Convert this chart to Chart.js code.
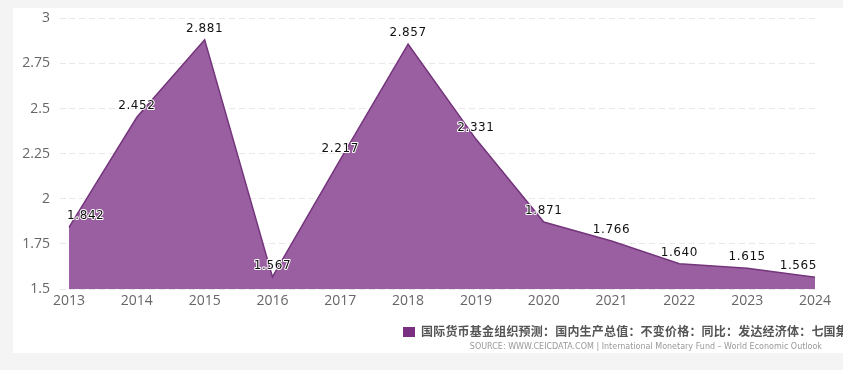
<!DOCTYPE html>
<html>
<head>
<meta charset="utf-8">
<script src="https://cdn.jsdelivr.net/npm/chart.js@4"></script>
<style>
  html, body { margin: 0; padding: 0; background: #f4f4f4; }
  #wrap { position: relative; width: 843px; height: 370px; overflow: hidden; }
  #panel { position: absolute; left: 13px; top: 8px; width: 830px; height: 345px; background: #fff; }
  #chart { position: absolute; left: 0; top: 0; }
  #legend { position: absolute; left: 403px; top: 322px; white-space: nowrap; letter-spacing: 0.2px;
    font: bold 12px "Noto Sans CJK SC", sans-serif; color: #555; line-height: 18px; }
  #legend .box { display: inline-block; width: 12px; height: 10px; background: #7b2f80;
    margin-right: 6px; vertical-align: -1px; }
  #source { position: absolute; right: 21px; top: 342px; white-space: nowrap;
    font: 8px "DejaVu Sans", sans-serif; color: #999; }
</style>
</head>
<body>
<div id="wrap">
  <div id="panel"></div>
  <canvas id="chart" width="843" height="370"></canvas>
  <div id="legend"><span class="box"></span>国际货币基金组织预测：国内生产总值：不变价格：同比：发达经济体：七国集团</div>
  <div id="source">SOURCE: WWW.CEICDATA.COM | International Monetary Fund – World Economic Outlook</div>
</div>
<script>
// data
const years = ['2013', '2014', '2015', '2016', '2017', '2018', '2019', '2020', '2021', '2022', '2023', '2024'];
const gdpGrowth = [1.842, 2.452, 2.881, 1.567, 2.217, 2.857, 2.331, 1.871, 1.766, 1.640, 1.615, 1.565];
const yTicks = [1.5, 1.75, 2, 2.25, 2.5, 2.75, 3];

// value labels with white outline
const valueLabels = {
    id: 'valueLabels',
    afterDatasetsDraw(chart) {
        const ctx = chart.ctx;
        const meta = chart.getDatasetMeta(0);
        const area = chart.chartArea;
        ctx.save();
        ctx.font = '12px "DejaVu Sans", sans-serif';
        ctx.letterSpacing = '0.6px';
        ctx.textAlign = 'center';
        ctx.textBaseline = 'middle';
        ctx.lineJoin = 'round';
        meta.data.forEach((pt, i) => {
            const text = gdpGrowth[i].toFixed(3);
            const w = ctx.measureText(text).width;
            let x = pt.x;
            if (x - w / 2 < area.left) x = area.left + w / 2 - 2;
            if (x + w / 2 > area.right) x = area.right - w / 2 + 2;
            const y = pt.y - 11;
            ctx.strokeStyle = '#fff';
            ctx.lineWidth = 2;
            ctx.strokeText(text, x, y);
            ctx.fillStyle = '#111';
            ctx.fillText(text, x, y);
        });
        ctx.restore();
    }
};

new Chart(document.getElementById('chart'), {
    type: 'line',
    data: {
        labels: years,
        datasets: [{
            data: gdpGrowth,
            borderColor: '#74357c',
            borderWidth: 1.5,
            backgroundColor: '#9a5fa1',
            fill: 'start',
            pointRadius: 0,
            tension: 0
        }]
    },
    options: {
        responsive: false,
        animation: false,
        layout: { padding: { top: 14, right: 28, bottom: 61, left: 0 } },
        plugins: { legend: { display: false }, tooltip: { enabled: false } },
        scales: {
            x: {
                offset: false,
                grid: { display: false, drawTicks: false },
                border: { display: false },
                ticks: { color: '#666', font: { family: '"Open Sans", sans-serif', size: 14 }, padding: 4, maxRotation: 0 },
                afterFit: s => { s.height = 20; }
            },
            y: {
                min: 1.5,
                max: 3,
                afterBuildTicks: s => { s.ticks = yTicks.map(v => ({ value: v })); },
                grid: { color: '#e8e8e8', tickLength: 9, tickColor: '#e8e8e8', tickBorderDash: [6, 4] },
                border: { display: false, dash: [6, 4] },
                ticks: {
                    color: '#666',
                    font: { family: '"Open Sans", sans-serif', size: 14 },
                    padding: 10,
                    callback: v => String(v)
                },
                afterFit: s => { s.width = 69; }
            }
        }
    },
    plugins: [valueLabels]
});
</script>
</body>
</html>
